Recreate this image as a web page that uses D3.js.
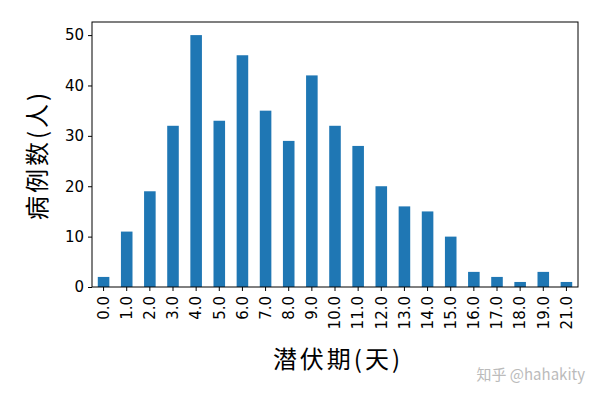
<!DOCTYPE html>
<html><head><meta charset="utf-8">
<script src="https://cdn.jsdelivr.net/npm/d3@7"></script>
<style>body{margin:0;background:#fff}</style></head>
<body><svg id="c" width="600" height="400"></svg>
<script>
const categories = ["0.0","1.0","2.0","3.0","4.0","5.0","6.0","7.0","8.0","9.0","10.0","11.0","12.0","13.0","14.0","15.0","16.0","17.0","18.0","19.0","21.0"];
const values = [2,11,19,32,50,33,46,35,29,42,32,28,20,16,15,10,3,2,1,3,1];
const yTicks = [0,10,20,30,40,50];
const svg = d3.select("#c");
const L=92,R=578,T=22,B=287;
const x = d3.scaleBand().domain(categories).range([L,R]).paddingInner(0.5).paddingOuter(0.25);
const y = d3.scaleLinear().domain([0,52.6]).range([B,T]);
svg.selectAll("rect.bar").data(values).enter().append("rect")
 .attr("x",(d,i)=>x(categories[i])).attr("width",x.bandwidth())
 .attr("y",d=>y(d)).attr("height",d=>B-y(d)).attr("fill","#1f77b4");
const font="DejaVu Sans";
const ya = svg.append("g").attr("transform",`translate(${L},0)`).call(d3.axisLeft(y).tickValues(yTicks).tickSize(4).tickPadding(4));
ya.selectAll("text").attr("font-family",font).attr("font-size",15).attr("fill","#000");
const xa = svg.append("g").attr("transform",`translate(0,${B})`).call(d3.axisBottom(x).tickSize(4).tickPadding(4));
xa.selectAll("text").attr("font-family",font).attr("font-size",15).attr("fill","#000")
 .attr("x",-9).attr("y",0).attr("dy","0.35em").attr("text-anchor","end")
 .attr("transform","rotate(-90)");
[ya,xa].forEach(a=>{a.select(".domain").remove();a.selectAll("line").attr("stroke","#000");});
svg.append("rect").attr("x",L).attr("y",T).attr("width",R-L).attr("height",B-T).attr("fill","none").attr("stroke","#000").attr("stroke-width",1);
svg.append("text").attr("x",338).attr("y",368).attr("text-anchor","middle").attr("font-family","Noto Sans CJK SC").attr("font-size",24).attr("letter-spacing",3).text("潜伏期(天)");
svg.append("text").attr("transform","translate(46,155) rotate(-90)").attr("text-anchor","middle").attr("font-family","Noto Sans CJK SC").attr("font-size",24).attr("letter-spacing",3).text("病例数(人)");
svg.append("text").attr("x",585).attr("y",380).attr("text-anchor","end").attr("font-family","Noto Sans CJK SC").attr("font-size",15).attr("fill","#bbb").text("知乎 @hahakity");
</script></body></html>
